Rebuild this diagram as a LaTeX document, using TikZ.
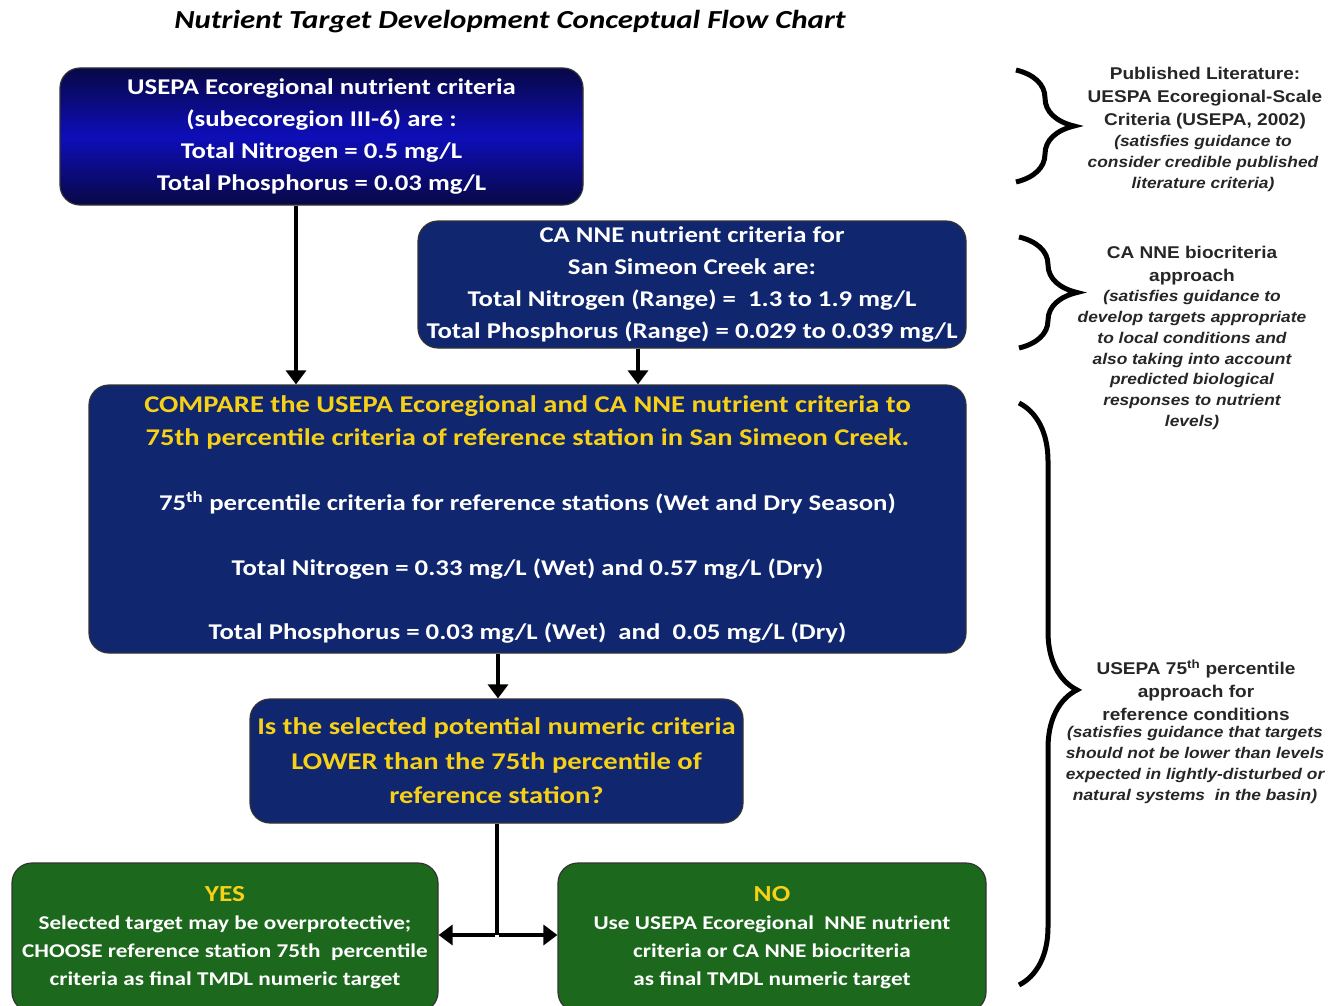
\documentclass[tikz,border=0pt]{standalone}
\usepackage{fontspec}
\setmainfont{Carlito}[FakeStretch=1.19]
\newfontfamily\sidefont{Liberation Sans}[FakeStretch=1.12]
\usetikzlibrary{arrows.meta,decorations.pathreplacing,calc}
\definecolor{navy}{RGB}{16,38,110}
\definecolor{bluetop}{RGB}{8,8,70}
\definecolor{bluemid}{RGB}{14,14,185}
\definecolor{greenbox}{RGB}{28,104,28}
\definecolor{yel}{RGB}{247,209,23}
\tikzset{
  boxbase/.style={draw=black!80, line width=1.2pt, rounded corners=20pt, align=center, inner sep=0pt, text=white, font=\bfseries},
  navybox/.style={boxbase, fill=navy},
  greenbx/.style={boxbase, fill=greenbox},
  arr/.style={line width=4pt, -{Triangle[width=20pt,length=14pt]}},
  conn/.style={line width=4pt},
  bracestyle/.style={line width=5pt, decorate, decoration={brace, amplitude=58pt, aspect=#1}},
  sidehead/.style={font=\sidefont\bfseries\fontsize{17}{23}\selectfont, text=black!85, align=center, inner sep=0pt},
  sidebody/.style={font=\sidefont\bfseries\itshape\fontsize{15.5}{20.7}\selectfont, text=black!85, align=center, inner sep=0pt}
}
\begin{document}
\begin{tikzpicture}[x=1pt,y=-1pt]
\useasboundingbox (0,0) rectangle (1338,1006);
% title
\node[font=\bfseries\itshape\fontsize{26}{30}\selectfont] (title) at (510,22) {Nutrient Target Development Conceptual Flow Chart};
% box 1 (gradient)
\node[boxbase, minimum width=523pt, minimum height=137pt, top color=bluetop, bottom color=bluetop, middle color=bluemid, font=\bfseries\fontsize{22.5}{32}\selectfont] (b1) at (321.5,136.5)
 {USEPA Ecoregional nutrient criteria\\(subecoregion III-6) are :\\Total Nitrogen = 0.5 mg/L\\Total Phosphorus = 0.03 mg/L};
% box 2
\node[navybox, minimum width=548pt, minimum height=127pt, font=\bfseries\fontsize{22.5}{32}\selectfont] (b2) at (692,284.5)
 {CA NNE nutrient criteria for\\San Simeon Creek are:\\Total Nitrogen (Range) =\ \ 1.3 to 1.9 mg/L\\Total Phosphorus (Range) = 0.029 to 0.039 mg/L};
% box 3
\node[navybox, minimum width=877pt, minimum height=268pt, font=\bfseries\fontsize{22.5}{33}\selectfont] (b3) at (527.5,519)
 {{\color{yel}\fontsize{24}{33}\selectfont COMPARE the USEPA Ecoregional and CA NNE nutrient criteria to}\\
  {\color{yel}\fontsize{24}{33}\selectfont 75th percentile criteria of reference station in San Simeon Creek.}\\[32pt]
  75\textsuperscript{th} percentile criteria for reference stations (Wet and Dry Season)\\[32pt]
  Total Nitrogen = 0.33 mg/L (Wet) and 0.57 mg/L (Dry)\\[31pt]
  Total Phosphorus = 0.03 mg/L (Wet)\ \ and\ \ 0.05 mg/L (Dry)};
% box 4 decision
\node[navybox, minimum width=493pt, minimum height=124pt, text=yel, font=\bfseries\fontsize{24}{34.5}\selectfont] (b4) at (496.5,761)
 {Is the selected potential numeric criteria\\LOWER than the 75th percentile of\\reference station?};
% yes / no
\node[greenbx, minimum width=426pt, minimum height=149pt, font=\bfseries\fontsize{19.5}{28}\selectfont] (yes) at (225,937.5)
 {{\color{yel}\fontsize{23}{28}\selectfont YES}\\Selected target may be overprotective;\\CHOOSE reference station 75th\ \ percentile\\criteria as final TMDL numeric target};
\node[greenbx, minimum width=428pt, minimum height=149pt, font=\bfseries\fontsize{19.5}{28}\selectfont] (no) at (772,937.5)
 {{\color{yel}\fontsize{23}{28}\selectfont NO}\\Use USEPA Ecoregional\ \ NNE nutrient\\criteria or CA NNE biocriteria\\as final TMDL numeric target};
% arrows
\draw[arr] (b1.south -| 296,0) -- (b3.north -| 296,0);
\draw[arr] (b2.south -| 638,0) -- (b3.north -| 638,0);
\draw[arr] (b3.south -| 498,0) -- (b4.north -| 498,0);
\coordinate (j) at (497,935);
\draw[conn] (b4.south -| j) -- (j);
\draw[arr] ([xshift=-2pt]j) -- (yes.east |- j);
\draw[arr] ([xshift=2pt]j) -- (no.west |- j);
% braces
\coordinate (br1a) at (1016,70); \coordinate (br1b) at (1016,182);
\coordinate (br2a) at (1019,237); \coordinate (br2b) at (1019,348);
\coordinate (br3a) at (1019,403); \coordinate (br3b) at (1019,985);
\draw[bracestyle=0.5] (br1a) -- (br1b);
\draw[bracestyle=0.5] (br2a) -- (br2b);
\draw[bracestyle=0.493] (br3a) -- (br3b);
% side texts
\node[sidehead] (s1h) at (1205,98) {Published Literature:\\UESPA Ecoregional-Scale\\Criteria (USEPA, 2002)};
\node[sidebody] (s1b) at (1203,163.5) {(satisfies guidance to\\consider credible published\\literature criteria)};
\node[sidehead] (s2h) at (1192,265.5) {CA NNE biocriteria\\approach};
\node[sidebody] (s2b) at (1192,360) {(satisfies guidance to\\develop targets appropriate\\to local conditions and\\also taking into account\\predicted biological\\responses to nutrient\\levels)};
\node[sidehead] (s3h) at (1196,690.5) {USEPA 75\textsuperscript{th} percentile\\approach for\\reference conditions};
\node[sidebody] (s3b) at (1195,765) {(satisfies guidance that targets\\should not be lower than levels\\expected in lightly-disturbed or\\natural systems\ \ in the basin)};
\end{tikzpicture}
\end{document}
